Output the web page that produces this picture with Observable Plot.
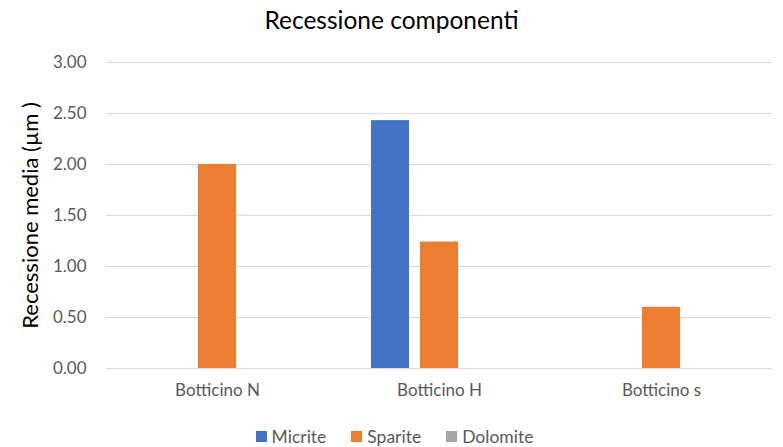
<!DOCTYPE html>
<html>
<head>
<meta charset="utf-8">
<script src="https://cdn.jsdelivr.net/npm/d3@7"></script>
<script src="https://cdn.jsdelivr.net/npm/@observablehq/plot@0.6"></script>
<style>
  html, body { margin: 0; padding: 0; background: #fff; }
  body { width: 783px; height: 447px; overflow: hidden; font-family: Lato, "Open Sans", sans-serif; }
  #title { height: 40px; line-height: 40px; text-align: center; font-size: 24.5px; color: #000; }
  #legend { height: 32px; display: flex; justify-content: center; align-items: flex-end; gap: 19px; font-size: 17.5px; color: #595959; }
  #legend .item { display: flex; align-items: center; gap: 5px; padding-left: 6px; }
  #legend .sw { width: 11px; height: 11px; display: inline-block; }
</style>
</head>
<body>
<div id="title">Recessione componenti</div>
<div id="chart"></div>
<div id="legend"></div>
<script>
// Samples (x axis) and mineral components (bar series)
const categories = ["Botticino N", "Botticino H", "Botticino s"];
const series = ["Micrite", "Sparite", "Dolomite"];
const colors = ["#4472C4", "#ED7D31", "#A5A5A5"];
// Mean recession (µm) per component, one array per series, aligned with categories
const micrite = [0, 2.43, 0];
const sparite = [2.00, 1.24, 0.60];
const dolomite = [0, 0, 0];
const yTicks = [0, 0.5, 1, 1.5, 2, 2.5, 3];

const values = [micrite, sparite, dolomite];
const rows = [];
categories.forEach((c, i) => {
  series.forEach((s, j) => rows.push({category: c, component: s, value: values[j][i]}));
});

const chart = Plot.plot({
  width: 783,
  height: 375,
  marginLeft: 105,
  marginRight: 11,
  marginTop: 22,
  marginBottom: 47,
  style: {fontFamily: "Lato, 'Open Sans', sans-serif", background: "#fff"},
  fx: {domain: categories, padding: 0, label: null},
  x: {domain: series, paddingInner: 0.227, paddingOuter: 0.845, axis: null},
  y: {domain: [0, 3], label: null},
  color: {domain: series, range: colors},
  marks: [
    Plot.gridY(yTicks, {stroke: "#d9d9d9", strokeOpacity: 1, strokeWidth: 1}),
    Plot.barY(rows, {fx: "category", x: "component", y: "value", fill: "component"}),
    Plot.axisY(yTicks, {tickSize: 0, tickPadding: 20, tickFormat: ".2f", fontSize: 17, color: "#595959", label: null}),
    Plot.axisY({ticks: [], label: "Recessione media (µm )", labelAnchor: "center", labelArrow: "none", labelOffset: 84, fontSize: 22, color: "#000"}),
    Plot.axisFx({anchor: "bottom", tickSize: 0, tickPadding: 15, fontSize: 17, color: "#595959", label: null})
  ]
});
document.getElementById("chart").appendChild(chart);

const legend = document.getElementById("legend");
series.forEach((s, i) => {
  const item = document.createElement("span");
  item.className = "item";
  const sw = document.createElement("span");
  sw.className = "sw";
  sw.style.background = colors[i];
  item.appendChild(sw);
  item.appendChild(document.createTextNode(s));
  legend.appendChild(item);
});
</script>
</body>
</html>
